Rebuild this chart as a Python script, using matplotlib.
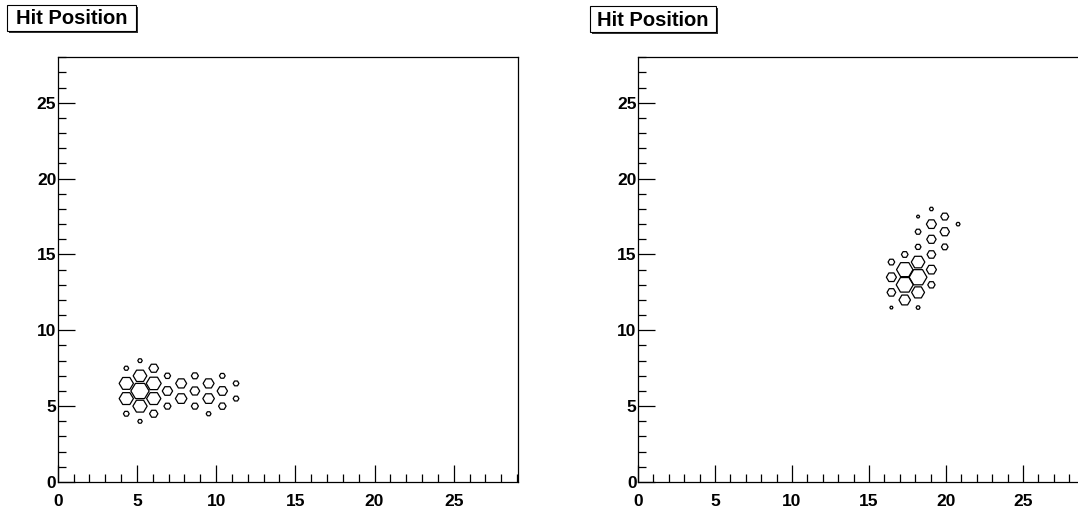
import numpy as np
import matplotlib
matplotlib.use("Agg")
import matplotlib.pyplot as plt
from matplotlib.collections import PolyCollection
from matplotlib.patches import Rectangle
from matplotlib.ticker import MultipleLocator

plt.rcParams['font.family'] = ['Liberation Sans', 'DejaVu Sans']

TITLE = "Hit Position"

# Honeycomb of flat-topped cells: columns sqrt(3)/2 apart, cells 1 apart in y
PITCH = np.sqrt(3) / 2
RADIUS = 1 / np.sqrt(3)

# Event 1: column index, cell centre y, cell content
ev1_col = [5, 5, 5, 5,
           6, 6, 6, 6, 6,
           7, 7, 7, 7,
           8, 8, 8,
           9, 9,
           10, 10, 10,
           11, 11, 11,
           12, 12, 12,
           13, 13]
ev1_y = [7.5, 6.5, 5.5, 4.5,
         8, 7, 6, 5, 4,
         7.5, 6.5, 5.5, 4.5,
         7, 6, 5,
         6.5, 5.5,
         7, 6, 5,
         6.5, 5.5, 4.5,
         7, 6, 5,
         6.5, 5.5]
ev1_val = [7, 61, 61, 10,
           6, 56, 100, 61, 6,
           28, 67, 61, 21,
           12, 32, 15,
           36, 40,
           15, 28, 15,
           36, 40, 7,
           10, 32, 17,
           10, 10]

# Event 2
ev2_col = [19, 19, 19, 19,
           20, 20, 20, 20,
           21, 21, 21, 21, 21, 21, 21,
           22, 22, 22, 22, 22, 22,
           23, 23, 23,
           24]
ev2_y = [14.5, 13.5, 12.5, 11.5,
         15, 14, 13, 12,
         17.5, 16.5, 15.5, 14.5, 13.5, 12.5, 11.5,
         18, 17, 16, 15, 14, 13,
         17.5, 16.5, 15.5,
         17]
ev2_val = [14, 32, 24, 3,
           14, 85, 92, 42,
           3, 11, 11, 58, 100, 53, 5,
           5, 32, 28, 24, 32, 17,
           20, 28, 14,
           5]

X_MAX_1 = 29.04
X_MAX_2 = 29.87
Y_MAX = 28.0

W, H = 1078, 513
fig = plt.figure(figsize=(W / 100, H / 100), dpi=100)


def axes_px(x0, y0, x1, y1):
    return fig.add_axes([x0 / W, 1 - y1 / H, (x1 - x0) / W, (y1 - y0) / H])


def hexagons(cols, ys, vals):
    cols = np.asarray(cols, float)
    ys = np.asarray(ys, float)
    vals = np.asarray(vals, float)
    scale = np.sqrt(vals / vals.max())
    ang = np.deg2rad(np.arange(0, 360, 60))
    polys = []
    for c, y, s in zip(cols, ys, scale):
        cx = c * PITCH
        polys.append(np.column_stack([cx + s * RADIUS * np.cos(ang),
                                      y + s * RADIUS * np.sin(ang)]))
    return polys


def panel(ax, cols, ys, vals, xmax):
    pc = PolyCollection(hexagons(cols, ys, vals), facecolors='none',
                        edgecolors='black', linewidths=0.9)
    ax.add_collection(pc)
    ax.set_xlim(0, xmax)
    ax.set_ylim(0, Y_MAX)
    ax.xaxis.set_major_locator(MultipleLocator(5))
    ax.xaxis.set_minor_locator(MultipleLocator(1))
    ax.yaxis.set_major_locator(MultipleLocator(5))
    ax.yaxis.set_minor_locator(MultipleLocator(1))
    ax.tick_params(which='both', direction='in', top=False, right=False,
                   width=0.9, colors='black')
    ax.tick_params(which='major', length=12)
    ax.tick_params(which='minor', length=6)
    ax.tick_params(axis='x', which='major', pad=9, labelsize=12.5)
    ax.tick_params(axis='y', which='major', pad=1, labelsize=12.5)
    for lab in ax.get_xticklabels() + ax.get_yticklabels():
        lab.set_fontweight('bold')
    for sp in ax.spines.values():
        sp.set_linewidth(0.9)
        sp.set_color('black')


def title_box(x0, y0, x1, y1):
    # drop shadow, then the white box with its border
    fig.patches.append(Rectangle(((x0 + 2) / W, 1 - (y1 + 2) / H),
                                 (x1 - x0) / W, (y1 - y0) / H,
                                 transform=fig.transFigure, facecolor='#333333',
                                 edgecolor='none', zorder=1))
    fig.patches.append(Rectangle((x0 / W, 1 - y1 / H), (x1 - x0) / W,
                                 (y1 - y0) / H, transform=fig.transFigure,
                                 facecolor='white', edgecolor='black',
                                 linewidth=0.8, zorder=2))
    fig.text((x0 + x1) / 2 / W, 1 - (y0 + y1 + 2) / 2 / H, TITLE,
             ha='center', va='center', fontsize=14.5, fontweight='bold',
             zorder=3)


ax1 = axes_px(57.7, 57.3, 517.7, 482)
panel(ax1, ev1_col, ev1_y, ev1_val, X_MAX_1)
ax2 = axes_px(638, 57.3, 1098, 482)
panel(ax2, ev2_col, ev2_y, ev2_val, X_MAX_2)

title_box(7, 5, 136, 31)
title_box(590, 6, 716, 32)

fig.savefig("out.png", dpi=100)
